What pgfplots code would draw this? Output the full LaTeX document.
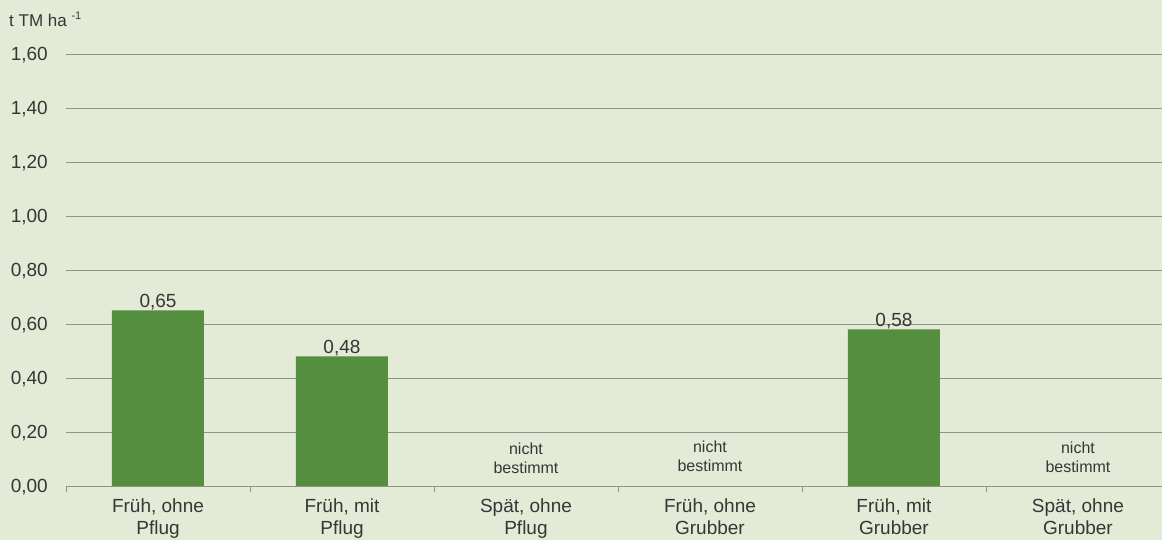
\documentclass[border=0pt]{standalone}
\usepackage{fontspec}
\setmainfont{Liberation Sans}
\usepackage{pgfplots}
\pgfplotsset{compat=1.18}
\definecolor{bgc}{HTML}{E3EBD6}
\definecolor{barc}{HTML}{548E3E}
\definecolor{gridc}{HTML}{8C9684}
\definecolor{txt}{HTML}{363636}

\begin{document}
\begin{tikzpicture}[x=1bp,y=1bp]
\fill[bgc] (0,0) rectangle (1162,540);
\node[anchor=base west, inner sep=0pt, text=txt, font=\fontsize{17bp}{19bp}\selectfont]
  at (9,513) {t TM ha \raisebox{0.45em}{\fontsize{11bp}{12bp}\selectfont -1}};
\begin{axis}[
    at={(66bp,54bp)}, anchor=south west,
    scale only axis, width=1104bp, height=432bp,
    xmin=-0.5, xmax=5.5, ymin=0, ymax=1.6,
    axis line style={draw=none},
    ytick={0,0.2,0.4,0.6,0.8,1.0,1.2,1.4,1.6},
    ymajorgrids, grid style={gridc, line width=0.9bp},
    ytick style={draw=none},
    /pgf/number format/.cd, fixed, fixed zerofill, precision=2, use comma,
    assume math mode=true, /pgfplots/.cd,
    yticklabel style={anchor=east, inner sep=0pt, text depth=0pt, xshift=-18bp,
        text=txt, font=\fontsize{19bp}{22bp}\selectfont},
    xtick={0,1,2,3,4,5},
    xticklabels={{Früh, ohne\\Pflug},{Früh, mit\\Pflug},{Spät, ohne\\Pflug},
                 {Früh, ohne\\Grubber},{Früh, mit\\Grubber},{Spät, ohne\\Grubber}},
    xticklabel style={align=center, anchor=north, inner sep=0pt, yshift=-13bp,
        text=txt, font=\fontsize{19bp}{22bp}\selectfont},
    major tick length=0pt,
    minor xtick={-0.5,0.5,1.5,2.5,3.5,4.5,5.5},
    minor tick length=6bp, xtick align=outside, xtick pos=bottom,
    minor x tick style={draw=gridc, line width=0.9bp},
    clip=false,
]
\addplot[ybar, fill=barc, draw=none, bar width=92bp,
    nodes near coords,
    every node near coord/.append style={anchor=south, inner sep=0.5bp, text=txt,
        font=\fontsize{19bp}{22bp}\selectfont}]
    coordinates {(0,0.65)(1,0.48)(4,0.58)};
\node[align=center, text=txt, font=\fontsize{16bp}{19bp}\selectfont]
    at (axis cs:2,0.104) {nicht\\bestimmt};
\node[align=center, text=txt, font=\fontsize{16bp}{19bp}\selectfont]
    at (axis cs:3,0.11) {nicht\\bestimmt};
\node[align=center, text=txt, font=\fontsize{16bp}{19bp}\selectfont]
    at (axis cs:5,0.106) {nicht\\bestimmt};
\end{axis}
\pgfresetboundingbox
\useasboundingbox (0,0) rectangle (1162,540);
\end{tikzpicture}
\end{document}
